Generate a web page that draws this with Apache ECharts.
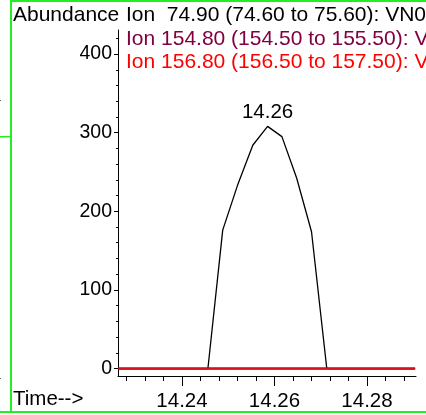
<!DOCTYPE html>
<html>
<head>
<meta charset="utf-8">
<script src="https://cdn.jsdelivr.net/npm/echarts@6/dist/echarts.min.js"></script>
<style>html,body{margin:0;padding:0;background:#fff}#c{width:426px;height:415px}</style>
</head>
<body>
<div id="c"></div>
<script>
// ---- data ----
const ion749Times = [14.2262, 14.2456, 14.2488, 14.2520, 14.2553, 14.2585, 14.2616, 14.2648, 14.2680, 14.2713, 14.2904];
const ion749Values = [0, 0, 176, 233, 284, 308, 295, 242, 174, 0, 0];
const ion1548Times = [14.2262, 14.2904];
const ion1548Values = [0, 0];
const ion1568Times = [14.2262, 14.2904];
const ion1568Values = [0, 0];
const yTickLabels = [0, 100, 200, 300, 400];
const yMinorTicks = [20, 40, 60, 80, 120, 140, 160, 180, 220, 240, 260, 280, 320, 340, 360, 380, 420];
const xTickLabels = [14.24, 14.26, 14.28];
const xMinorTicks = [14.228, 14.232, 14.236, 14.244, 14.248, 14.252, 14.256, 14.264, 14.268, 14.272, 14.276, 14.284, 14.288];
const legendLines = [
  'Ion  74.90 (74.60 to 75.60): VN0',
  'Ion 154.80 (154.50 to 155.50): V',
  'Ion 156.80 (156.50 to 157.50): V'
];
const peakLabelIndex = 5;

// ---- chart ----
const FONT = 'Liberation Sans, Arial, sans-serif';
const FS = 19.5;
const PFS = 20.5;
const TFS = 21;
const X_MIN = 14.22616, X_MAX = 14.29059;
const Y_MIN = -9.5, Y_MAX = 430.6;

function zip(t, v) { return t.map((x, i) => [x, v[i]]); }

const chart = echarts.init(document.getElementById('c'), null, { renderer: 'canvas' });
const green = '#22ee22';
chart.setOption({
  animation: false,
  backgroundColor: '#fff',
  grid: { left: 118, right: 10, top: 30, bottom: 39 },
  xAxis: [
    { type: 'value', min: X_MIN, max: X_MAX, position: 'bottom',
      axisLine: { show: true, onZero: false, lineStyle: { color: '#000', width: 1 } },
      axisTick: { show: true, length: 10, customValues: xTickLabels, lineStyle: { color: '#000' } },
      axisLabel: { show: true, customValues: xTickLabels, margin: 15, color: '#000', fontFamily: FONT, fontSize: PFS,
        formatter: (v) => v.toFixed(2) },
      splitLine: { show: false } },
    { type: 'value', min: X_MIN, max: X_MAX, position: 'bottom',
      axisLine: { show: false, onZero: false },
      axisTick: { show: true, length: 5, customValues: xMinorTicks, lineStyle: { color: '#000' } },
      axisLabel: { show: false }, splitLine: { show: false } }
  ],
  yAxis: [
    { type: 'value', min: Y_MIN, max: Y_MAX, position: 'left',
      axisLine: { show: true, onZero: false, lineStyle: { color: '#000', width: 1 } },
      axisTick: { show: true, length: 4, customValues: yTickLabels, lineStyle: { color: '#000' } },
      axisLabel: { show: true, customValues: yTickLabels, margin: 6, color: '#000', fontFamily: FONT, fontSize: FS },
      splitLine: { show: false } },
    { type: 'value', min: Y_MIN, max: Y_MAX, position: 'left',
      axisLine: { show: false, onZero: false },
      axisTick: { show: true, length: 2, customValues: yMinorTicks, lineStyle: { color: '#000' } },
      axisLabel: { show: false }, splitLine: { show: false } }
  ],
  series: [
    { type: 'line', name: legendLines[1], data: zip(ion1548Times, ion1548Values), showSymbol: false, symbol: 'none',
      lineStyle: { color: '#800040', width: 2 }, z: 2 },
    { type: 'line', name: legendLines[0], data: zip(ion749Times, ion749Values), symbol: 'circle', symbolSize: 1, showSymbol: true,
      itemStyle: { color: 'rgba(0,0,0,0)' },
      label: { show: true, position: 'top', distance: 3, color: '#000', fontFamily: FONT, fontSize: PFS,
        formatter: (d) => d.dataIndex === peakLabelIndex ? d.value[0].toFixed(2) : '' },
      lineStyle: { color: '#000', width: 1.3 }, z: 3 },
    { type: 'line', name: legendLines[2], data: zip(ion1568Times, ion1568Values), showSymbol: false, symbol: 'none',
      lineStyle: { color: '#d8101c', width: 2.2 }, z: 4 }
  ],
  graphic: [
    { type: 'rect', shape: { x: 10, y: 0, width: 2, height: 413 }, style: { fill: green }, silent: true },
    { type: 'rect', shape: { x: 11, y: 0, width: 415, height: 2 }, style: { fill: green }, silent: true },
    { type: 'rect', shape: { x: 0, y: 411, width: 426, height: 2 }, style: { fill: green }, silent: true },
    { type: 'rect', shape: { x: 0, y: 136, width: 11, height: 1.5 }, style: { fill: green }, silent: true },
    { type: 'rect', shape: { x: 0, y: 100, width: 1, height: 1 }, style: { fill: '#666' }, silent: true },
    { type: 'rect', shape: { x: 0, y: 378, width: 1, height: 1 }, style: { fill: '#666' }, silent: true },
    { type: 'text', left: 13, top: 5, style: { text: 'Abundance', fill: '#000', font: TFS + 'px ' + FONT } },
    { type: 'text', left: 126, top: 5, style: { text: legendLines[0], fill: '#000', font: TFS + 'px ' + FONT } },
    { type: 'text', left: 126, top: 29, style: { text: legendLines[1], fill: '#800040', font: TFS + 'px ' + FONT } },
    { type: 'text', left: 126, top: 52, style: { text: legendLines[2], fill: '#ff0000', font: TFS + 'px ' + FONT } },
    { type: 'text', left: 13, top: 389, style: { text: 'Time-->', fill: '#000', font: PFS + 'px ' + FONT } }
  ]
});
</script>
</body>
</html>
